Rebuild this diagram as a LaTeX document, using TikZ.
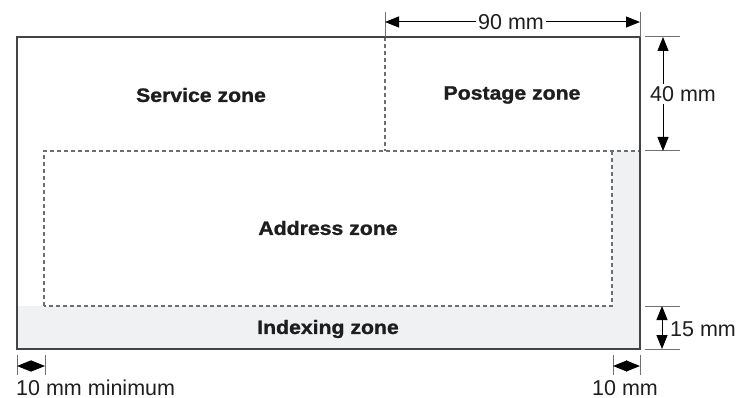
\documentclass[tikz,border=0pt]{standalone}
\usepackage{fontspec}
\setmainfont{Liberation Sans}
\newfontfamily\zonefont{Liberation Sans}[UprightFont=*-Bold, FakeStretch=1.1, FakeBold=1.3]
\usetikzlibrary{arrows.meta}
\definecolor{zonegray}{HTML}{F0F1F3}
\definecolor{border}{HTML}{444444}
\definecolor{extgray}{HTML}{707070}
\definecolor{dashgray}{HTML}{6E6E6E}
\definecolor{ink}{HTML}{1E1E1E}
\tikzset{
  dimline/.style={black, line width=1pt, {Triangle[length=14pt,width=11pt]}-{Triangle[length=14pt,width=11pt]}},
  extline/.style={draw=extgray, line width=1pt},
  zonelabel/.style={font=\zonefont\fontsize{19.3}{21}\selectfont, text=ink},
  dimlabel/.style={font=\fontsize{21.5}{24}\selectfont, text=ink, inner sep=2pt},
  zonedash/.style={draw=dashgray, line width=1.2pt, dash pattern=on 4pt off 3pt},
  outline/.style={draw=border, line width=1.3pt}
}
\begin{document}
\begin{tikzpicture}[x=1pt,y=-1pt]
\useasboundingbox (0,0) rectangle (736,398);
% corners
\coordinate (TL) at (17,37);
\coordinate (BR) at (640,349);
\coordinate (TR) at (640,37);
% grey indexing / margin zone
\fill[zonegray] (17,306) rectangle (640,349);
\fill[zonegray] (612,151) rectangle (640,306);
% dashed zone boundaries
\coordinate (divTop) at (385,37);
\coordinate (divBot) at (385,151);
\draw[zonedash] (divTop) -- (divBot);
\coordinate (adTL) at (44,151);
\coordinate (adTR) at (612,151);
\coordinate (adBR) at (612,306);
\coordinate (adBL) at (44,306);
\coordinate (adEdge) at (640,151);
\draw[zonedash] (adBL) -- (adTL) -- (adEdge);
\draw[zonedash] (adTR) -- (adBR) -- (adBL);
% outer envelope
\draw[outline] (TL) rectangle (BR);
% zone labels
\node[zonelabel] (service) at (201,95) {Service zone};
\node[zonelabel] (postage) at (512,95) {Postage zone};
\node[zonelabel] (address) at (328,228) {Address zone};
\node[zonelabel] (indexing) at (328,329) {Indexing zone};
% 90 mm
\coordinate (t1a) at (385,12);
\coordinate (t2a) at (640,12);
\draw[extline] (t1a) -- (divTop);
\draw[extline] (t2a) -- (TR);
\coordinate (d90a) at (385,22);
\coordinate (d90b) at (640,22);
\draw[dimline] (d90a) -- (d90b);
\node[dimlabel, fill=white] (l90) at (511,22) {90 mm};
% 40 mm
\coordinate (e1a) at (645,37);
\coordinate (e1b) at (680,37);
\coordinate (e2a) at (645,151);
\coordinate (e2b) at (680,151);
\draw[extline] (e1a) -- (e1b);
\draw[extline] (e2a) -- (e2b);
\coordinate (d40a) at (663,37);
\coordinate (d40b) at (663,151);
\draw[dimline] (d40a) -- (d40b);
\node[dimlabel, fill=white] (l40) at (683,94) {40 mm};
% 15 mm
\coordinate (e3a) at (645,306);
\coordinate (e3b) at (680,306);
\coordinate (e4a) at (645,349);
\coordinate (e4b) at (680,349);
\draw[extline] (e3a) -- (e3b);
\draw[extline] (e4a) -- (e4b);
\coordinate (d15a) at (662,306);
\coordinate (d15b) at (662,349);
\draw[dimline] (d15a) -- (d15b);
\node[dimlabel, anchor=west] (l15) at (668,329) {15 mm};
% 10 mm minimum (left)
\coordinate (b1a) at (17,355);
\coordinate (b1b) at (17,375);
\coordinate (b2a) at (45,355);
\coordinate (b2b) at (45,375);
\draw[extline] (b1a) -- (b1b);
\draw[extline] (b2a) -- (b2b);
\coordinate (d10a) at (17,366);
\coordinate (d10b) at (45,366);
\draw[dimline] (d10a) -- (d10b);
\node[dimlabel, anchor=base west, inner sep=0pt] (l10min) at (16,395) {10 mm minimum};
% 10 mm (right)
\coordinate (b3a) at (613,355);
\coordinate (b3b) at (613,375);
\coordinate (b4a) at (640,355);
\coordinate (b4b) at (640,375);
\draw[extline] (b3a) -- (b3b);
\draw[extline] (b4a) -- (b4b);
\coordinate (d10c) at (613,366);
\coordinate (d10d) at (640,366);
\draw[dimline] (d10c) -- (d10d);
\node[dimlabel, anchor=base west, inner sep=0pt] (l10) at (592,395) {10 mm};
\end{tikzpicture}
\end{document}
